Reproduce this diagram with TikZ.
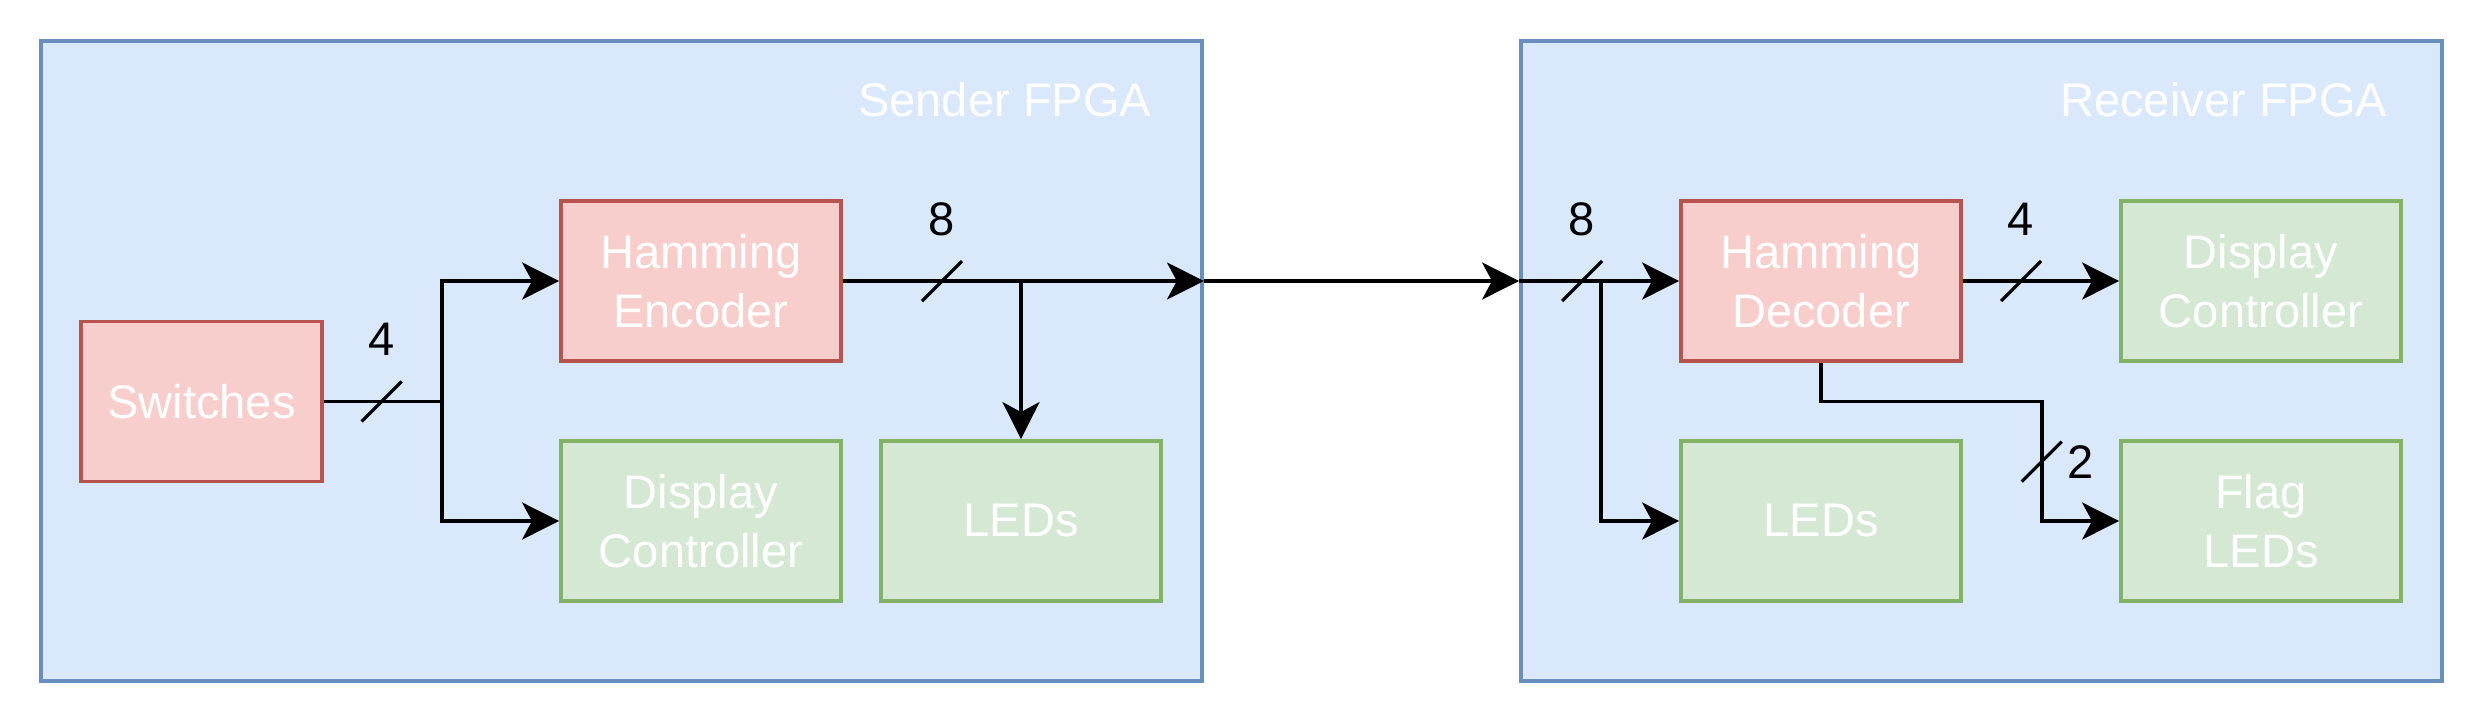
\documentclass[tikz,border=0pt]{standalone}
\usepackage{fontspec}
\setmainfont{Liberation Sans}
\usetikzlibrary{arrows.meta}
\definecolor{fpgafill}{HTML}{dae8fc}
\definecolor{fpgaline}{HTML}{6c8ebf}
\definecolor{logicfill}{HTML}{f8cecc}
\definecolor{logicline}{HTML}{b85450}
\definecolor{iofill}{HTML}{d5e8d4}
\definecolor{ioline}{HTML}{82b366}

\begin{document}
\begin{tikzpicture}[
    font=\fontsize{13.4}{16.6}\selectfont,
    fpga/.style={draw=fpgaline, fill=fpgafill, line width=1.1pt, minimum height=6.4cm},
    fpgatitle/.style={text=white, anchor=base east, inner sep=0pt},
    logic/.style={draw=logicline, fill=logicfill, line width=1.1pt, text=white, align=center,
        minimum width=2.8cm, minimum height=1.6cm, inner sep=0pt},
    io/.style={logic, draw=ioline, fill=iofill},
    wire/.style={line width=1.1pt},
    arr/.style={wire, -{Stealth[length=10.5pt, width=10.5pt, inset=2.8pt]}},
    busmark/.style={line width=0.9pt},
    buslabel/.style={inner sep=0pt}
]
    \useasboundingbox (0,0) rectangle (24.84,-7.24);

    % FPGA boards
    \node[fpga, minimum width=11.61cm] (sender) at (6.215,-3.61) {};
    \node[fpga, minimum width=9.21cm] (receiver) at (19.815,-3.61) {};
    \node[fpgatitle] (sendertitle) at (11.52,-1.167) {Sender FPGA};
    \node[fpgatitle] (receivertitle) at (23.88,-1.167) {Receiver FPGA};

    % Sender blocks
    \node[logic, minimum width=2.41cm] (switches) at (2.015,-4.015) {Switches};
    \node[logic] (encoder) at (7.01,-2.81) {Hamming\\Encoder};
    \node[io] (dispS) at (7.01,-5.21) {Display\\Controller};
    \node[io] (ledS) at (10.21,-5.21) {LEDs};

    % Receiver blocks
    \node[logic] (decoder) at (18.21,-2.81) {Hamming\\Decoder};
    \node[io] (dispR) at (22.61,-2.81) {Display\\Controller};
    \node[io] (ledR) at (18.21,-5.21) {LEDs};
    \node[io] (flag) at (22.61,-5.21) {Flag\\LEDs};

    % Branch points
    \coordinate (swjoin) at (4.42,-4.015);
    \coordinate (encjoin) at (10.21,-2.81);
    \coordinate (decjoin) at (16.01,-2.81);
    \coordinate (flagbend) at (20.417,-4.015);

    % Sender wiring
    \draw[wire] (switches.east) -- (swjoin);
    \draw[arr] (swjoin) |- (encoder.west);
    \draw[arr] (swjoin) |- (dispS.west);
    \draw[arr] (encoder.east) -- (sender.east |- encoder.east);
    \draw[arr] (encjoin) -- (ledS.north);

    % Link between boards
    \draw[arr] (sender.east |- encoder.east) -- (receiver.west |- decoder.west);

    % Receiver wiring
    \draw[arr] (receiver.west |- decoder.west) -- (decoder.west);
    \draw[arr] (decjoin) |- (ledR.west);
    \draw[arr] (decoder.east) -- (dispR.west);
    \draw[arr] (decoder.south) |- (flagbend) |- (flag.west);

    % Bus widths
    \draw[busmark] (3.817,-4.015) +(-0.2,-0.2) -- +(0.2,0.2);
    \node[buslabel] (busA) at (3.82,-3.39) {4};
    \draw[busmark] (9.42,-2.81) +(-0.2,-0.2) -- +(0.2,0.2);
    \node[buslabel] (busB) at (9.42,-2.19) {8};
    \draw[busmark] (15.82,-2.81) +(-0.2,-0.2) -- +(0.2,0.2);
    \node[buslabel] (busC) at (15.82,-2.19) {8};
    \draw[busmark] (20.21,-2.81) +(-0.2,-0.2) -- +(0.2,0.2);
    \node[buslabel] (busD) at (20.21,-2.19) {4};
    \draw[busmark] (20.417,-4.617) +(-0.2,-0.2) -- +(0.2,0.2);
    \node[buslabel] (busE) at (20.81,-4.617) {2};

\end{tikzpicture}
\end{document}
